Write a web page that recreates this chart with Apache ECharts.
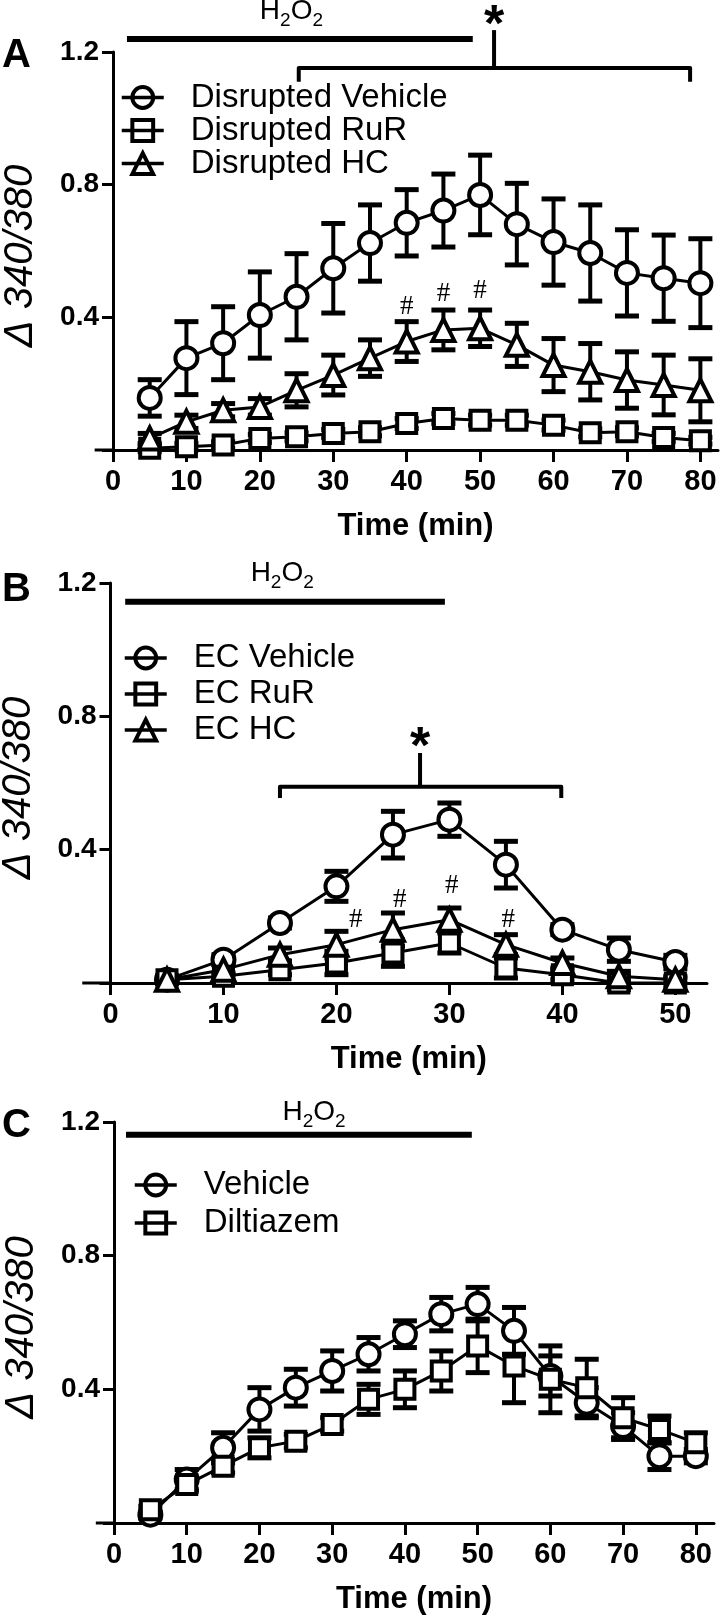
<!DOCTYPE html>
<html><head><meta charset="utf-8">
<script src="https://cdn.jsdelivr.net/npm/echarts@6/dist/echarts.min.js"></script>
<style>html,body{margin:0;padding:0;background:#fff}#c{width:720px;height:1621px}</style>
</head><body><div id="c"></div>
<script>
// ---------- DATA ----------
const timeA = [5,10,15,20,25,30,35,40,45,50,55,60,65,70,75,80];
const vehA    = [0.157,0.277,0.322,0.407,0.462,0.548,0.624,0.685,0.722,0.769,0.681,0.627,0.594,0.534,0.518,0.503];
const vehAErr = [0.055,0.11,0.11,0.13,0.13,0.135,0.115,0.10,0.11,0.12,0.123,0.13,0.145,0.13,0.13,0.134];
const rurA    = [0.005,0.01,0.015,0.035,0.04,0.05,0.055,0.08,0.095,0.09,0.09,0.075,0.052,0.055,0.038,0.028];
const rurAErr = [0.01,0.01,0.01,0.012,0.012,0.012,0.012,0.015,0.015,0.015,0.015,0.015,0.012,0.012,0.012,0.01];
const hcA     = [0.035,0.085,0.12,0.13,0.18,0.226,0.277,0.327,0.362,0.367,0.317,0.256,0.236,0.211,0.196,0.18];
const hcAErr  = [0.015,0.02,0.02,0.025,0.05,0.06,0.055,0.06,0.06,0.055,0.065,0.08,0.085,0.085,0.09,0.095];

const timeB = [5,10,15,20,25,30,35,40,45,50];
const vehB    = [0.01,0.07,0.18,0.29,0.445,0.49,0.355,0.16,0.10,0.063];
const vehBErr = [0.01,0.015,0.015,0.045,0.07,0.05,0.07,0.015,0.035,0.02];
const rurB    = [0.01,0.02,0.04,0.06,0.09,0.12,0.045,0.025,0.0,0.0];
const rurBErr = [0.01,0.01,0.015,0.035,0.04,0.03,0.03,0.015,0.02,0.015];
const hcB     = [0.01,0.04,0.085,0.115,0.16,0.19,0.115,0.06,0.02,0.01];
const hcBErr  = [0.01,0.015,0.02,0.04,0.05,0.035,0.03,0.015,0.015,0.01];

const timeC = [5,10,15,20,25,30,35,40,45,50,55,60,65,70,75,80];
const vehC    = [0.025,0.13,0.225,0.34,0.405,0.455,0.505,0.565,0.625,0.655,0.575,0.44,0.36,0.29,0.20,0.20];
const vehCErr = [0.01,0.03,0.045,0.065,0.055,0.06,0.05,0.04,0.05,0.05,0.07,0.06,0.045,0.04,0.04,0.02];
const dilC    = [0.04,0.115,0.17,0.225,0.245,0.295,0.37,0.40,0.455,0.53,0.47,0.43,0.405,0.315,0.28,0.24];
const dilCErr = [0.01,0.02,0.02,0.03,0.02,0.02,0.045,0.055,0.06,0.08,0.11,0.10,0.085,0.06,0.04,0.03];

const ticksX80 = [0,10,20,30,40,50,60,70,80];
const ticksX50 = [0,10,20,30,40,50];
const xStubStart = -2.5;   // x-axis line continues a little left of the y axis

// annotations (data units): bar [x1,x2,y], label [x,y], bracket [x1,x2,yLine,yHook,xStem,yStemTop], star [x,y]
const h2o2BarA = [1.9, 49.0, 1.239], h2o2LabelA = [24.3, 1.316];
const bracketA = [25.3, 78.6, 1.152, 1.11, 51.9, 1.266], starA = [51.9, 1.355];
const hashA = [[40,0.43],[45,0.47],[50,0.48]];
const h2o2BarB = [1.3, 29.6, 1.144], h2o2LabelB = [15.2, 1.222];
const bracketB = [15.0, 39.9, 0.589, 0.555, 27.4, 0.69], starB = [27.4, 0.78];
const hashB = [[21.7,0.19],[25.6,0.25],[30.2,0.29],[35.2,0.19]];
const h2o2BarC = [1.65, 49.2, 1.162], h2o2LabelC = [27.5, 1.222];

// ---------- CHART ----------
const FF = "'Liberation Sans', Arial, Helvetica, sans-serif";
const chart = echarts.init(document.getElementById('c'), null, {renderer:'canvas'});

function xAxis(idx, max, ticks) {
  return {
    gridIndex: idx, type:'value', min:0, max:max,
    axisLine:{show:true, onZero:true, lineStyle:{color:'#000', width:3}},
    axisTick:{show:true, customValues:ticks, length:12, lineStyle:{color:'#000', width:3}},
    axisLabel:{customValues:ticks, color:'#000', fontFamily:FF, fontWeight:'bold', fontSize:29, margin:17},
    splitLine:{show:false},
    name:'Time (min)', nameLocation:'middle', nameGap:61, nameMoveOverlap:false,
    nameTextStyle:{color:'#000', fontFamily:FF, fontWeight:'bold', fontSize:31}
  };
}
function yAxis(idx) {
  return {
    gridIndex: idx, type:'value', min:0, max:1.2, interval:0.4,
    axisLine:{show:true, onZero:false, lineStyle:{color:'#000', width:3}},
    axisTick:{show:true, length:11, lineStyle:{color:'#000', width:3}},
    axisLabel:{color:'#000', fontFamily:FF, fontWeight:'bold', fontSize:28, margin:14,
      formatter: v => v === 0 ? '' : v.toFixed(1)},
    splitLine:{show:false},
    name:'\u0394 340/380', nameLocation:'middle', nameGap:72, nameMoveOverlap:false,
    nameTextStyle:{color:'#000', fontFamily:FF, fontStyle:'italic', fontSize:40, padding:[0,10,0,0]}
  };
}
const SYM = {circle:['circle',22], square:['rect',19], tri:['triangle',22]};
function lineSeries(idx, name, times, vals, sym) {
  return {
    type:'line', name:name, xAxisIndex:idx, yAxisIndex:idx, z:3,
    data: times.map((t,i)=>[t, vals[i]]),
    symbol: SYM[sym][0], symbolSize: SYM[sym][1], showAllSymbol:true,
    itemStyle:{color:'#fff', borderColor:'#000', borderWidth:4},
    lineStyle:{color:'#000', width:3},
    emphasis:{disabled:true}, animation:false
  };
}
function errSeries(idx, times, vals, errs) {
  return {
    type:'custom', xAxisIndex:idx, yAxisIndex:idx, z:2, silent:true, clip:false,
    data: times.map((t,i)=>[t, vals[i]-errs[i], vals[i]+errs[i]]),
    encode:{x:0, y:[1,2]},
    renderItem(params, api) {
      const x = api.value(0);
      const lo = api.coord([x, api.value(1)]), hi = api.coord([x, api.value(2)]);
      const w = 12;
      return {type:'group', children:[
        {type:'line', shape:{x1:lo[0],y1:lo[1],x2:hi[0],y2:hi[1]}, style:{stroke:'#000', lineWidth:4}},
        {type:'line', shape:{x1:hi[0]-w,y1:hi[1],x2:hi[0]+w,y2:hi[1]}, style:{stroke:'#000', lineWidth:5}},
        {type:'line', shape:{x1:lo[0]-w,y1:lo[1],x2:lo[0]+w,y2:lo[1]}, style:{stroke:'#000', lineWidth:5}}
      ]};
    }
  };
}
function annoSeries(idx, bar, label, bracket, star, hashes) {
  return {
    type:'custom', xAxisIndex:idx, yAxisIndex:idx, z:5, silent:true, clip:false,
    data:[[0,0]],
    renderItem(params, api) {
      const ch = [];
      const z1 = api.coord([xStubStart, 0]), z2 = api.coord([0, 0]);
      ch.push({type:'line', shape:{x1:z1[0],y1:z1[1],x2:z2[0],y2:z2[1]}, style:{stroke:'#000', lineWidth:3}});
      const b1 = api.coord([bar[0], bar[2]]), b2 = api.coord([bar[1], bar[2]]);
      ch.push({type:'line', shape:{x1:b1[0],y1:b1[1],x2:b2[0],y2:b2[1]}, style:{stroke:'#000', lineWidth:6}});
      const lp = api.coord(label);
      ch.push({type:'text', x:lp[0], y:lp[1], style:{
        text:'{n|H}{s|2}{n|O}{s|2}', align:'center', verticalAlign:'middle', fill:'#000',
        rich:{n:{fontSize:28, fontFamily:FF, verticalAlign:'top', fill:'#000'},
              s:{fontSize:19, fontFamily:FF, verticalAlign:'top', padding:[14,0,0,0], fill:'#000'}}
      }});
      if (bracket) {
        const p1 = api.coord([bracket[0], bracket[3]]), p2 = api.coord([bracket[0], bracket[2]]);
        const p3 = api.coord([bracket[1], bracket[2]]), p4 = api.coord([bracket[1], bracket[3]]);
        ch.push({type:'polyline', shape:{points:[p1,p2,p3,p4]}, style:{stroke:'#000', lineWidth:4, fill:null, lineJoin:'round'}});
        const s1 = api.coord([bracket[4], bracket[2]]), s2 = api.coord([bracket[4], bracket[5]]);
        ch.push({type:'line', shape:{x1:s1[0],y1:s1[1],x2:s2[0],y2:s2[1]}, style:{stroke:'#000', lineWidth:4}});
      }
      if (star) {
        const sp = api.coord(star);
        ch.push({type:'text', x:sp[0], y:sp[1], style:{text:'*', fontSize:52, fontWeight:'bold', fontFamily:FF,
          align:'center', verticalAlign:'top', fill:'#000'}});
      }
      (hashes||[]).forEach(h => {
        const hp = api.coord(h);
        ch.push({type:'text', x:hp[0], y:hp[1], style:{text:'#', fontSize:27, fontFamily:"'Liberation Serif', 'Times New Roman', serif",
          align:'center', verticalAlign:'middle', fill:'#000'}});
      });
      return {type:'group', children:ch};
    }
  };
}
function legend(names, left, top, lh) {
  return {
    data: names, orient:'vertical', left:left, top:top, itemWidth:42, itemHeight:26, itemGap:0,
    selectedMode:false, padding:0,
    textStyle:{color:'#000', fontFamily:FF, fontSize:33, lineHeight:lh, padding:[0,0,0,22]},
    lineStyle:{width:3.5, color:'#000'},
    itemStyle:{borderWidth:4, borderColor:'#000', color:'rgba(255,255,255,0)'}
  };
}

const option = {
  animation:false,
  backgroundColor:'#fff',
  grid:[
    {left:113, right:2, top:52, height:398, outerBoundsMode:'none', containLabel:false},
    {left:110.5, right:13, top:583, height:400, outerBoundsMode:'none', containLabel:false},
    {left:114, right:6, top:1122, height:401, outerBoundsMode:'none', containLabel:false}
  ],
  xAxis:[xAxis(0, 82.4, ticksX80), xAxis(1, 52.8, ticksX50), xAxis(2, 82.5, ticksX80)],
  yAxis:[yAxis(0), yAxis(1), yAxis(2)],
  legend:[
    legend(['Disrupted Vehicle','Disrupted RuR','Disrupted HC'], 120, 81, 33),
    legend(['EC Vehicle','EC RuR','EC HC'], 123, 640, 36),
    legend(['Vehicle','Diltiazem'], 133, 1166, 38)
  ],
  graphic:[
    {type:'text', left:2, top:36, style:{text:'A', font:"bold 40px "+FF, fill:'#000'}},
    {type:'text', left:2, top:570, style:{text:'B', font:"bold 40px "+FF, fill:'#000'}},
    {type:'text', left:2, top:1106, style:{text:'C', font:"bold 40px "+FF, fill:'#000'}}
  ],
  series:[
    errSeries(0, timeA, vehA, vehAErr), errSeries(0, timeA, rurA, rurAErr), errSeries(0, timeA, hcA, hcAErr),
    lineSeries(0, 'Disrupted Vehicle', timeA, vehA, 'circle'),
    lineSeries(0, 'Disrupted RuR', timeA, rurA, 'square'),
    lineSeries(0, 'Disrupted HC', timeA, hcA, 'tri'),
    annoSeries(0, h2o2BarA, h2o2LabelA, bracketA, starA, hashA),

    errSeries(1, timeB, vehB, vehBErr), errSeries(1, timeB, rurB, rurBErr), errSeries(1, timeB, hcB, hcBErr),
    lineSeries(1, 'EC Vehicle', timeB, vehB, 'circle'),
    lineSeries(1, 'EC RuR', timeB, rurB, 'square'),
    lineSeries(1, 'EC HC', timeB, hcB, 'tri'),
    annoSeries(1, h2o2BarB, h2o2LabelB, bracketB, starB, hashB),

    errSeries(2, timeC, vehC, vehCErr), errSeries(2, timeC, dilC, dilCErr),
    lineSeries(2, 'Vehicle', timeC, vehC, 'circle'),
    lineSeries(2, 'Diltiazem', timeC, dilC, 'square'),
    annoSeries(2, h2o2BarC, h2o2LabelC, null, null, null)
  ]
};
chart.setOption(option);
</script></body></html>
